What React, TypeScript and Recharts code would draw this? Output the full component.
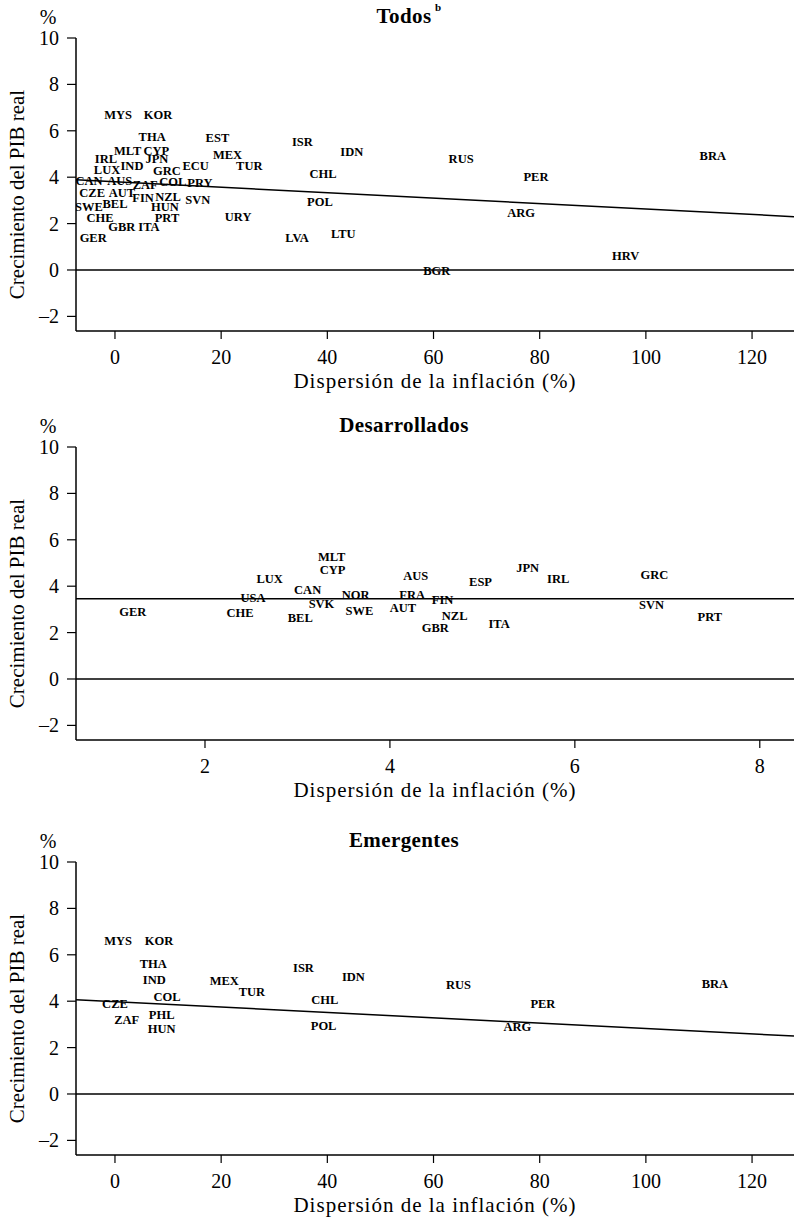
import { ScatterChart, Scatter, XAxis, YAxis, ReferenceLine } from 'recharts'

type CountryPoint = { code: string; x: number; y: number }

// x = dispersión de la inflación (%), y = crecimiento del PIB real (%)
const todosPoints: CountryPoint[] = [
  { code: 'MYS', x: 0.6, y: 6.7 },
  { code: 'KOR', x: 8.1, y: 6.7 },
  { code: 'THA', x: 7.0, y: 5.75 },
  { code: 'EST', x: 19.3, y: 5.7 },
  { code: 'ISR', x: 35.3, y: 5.5 },
  { code: 'IDN', x: 44.6, y: 5.1 },
  { code: 'MLT', x: 2.4, y: 5.15 },
  { code: 'CYP', x: 7.8, y: 5.15 },
  { code: 'IRL', x: -1.7, y: 4.8 },
  { code: 'JPN', x: 7.9, y: 4.8 },
  { code: 'IND', x: 3.2, y: 4.5 },
  { code: 'ECU', x: 15.2, y: 4.5 },
  { code: 'MEX', x: 21.2, y: 4.95 },
  { code: 'TUR', x: 25.3, y: 4.5 },
  { code: 'RUS', x: 65.2, y: 4.8 },
  { code: 'BRA', x: 112.6, y: 4.9 },
  { code: 'LUX', x: -1.5, y: 4.3 },
  { code: 'GRC', x: 9.8, y: 4.25 },
  { code: 'CHL', x: 39.2, y: 4.15 },
  { code: 'PER', x: 79.3, y: 4.0 },
  { code: 'CAN', x: -4.9, y: 3.85 },
  { code: 'AUS', x: 0.9, y: 3.85 },
  { code: 'ZAF', x: 5.7, y: 3.65 },
  { code: 'COL', x: 10.9, y: 3.8 },
  { code: 'PRY', x: 16.0, y: 3.75 },
  { code: 'CZE', x: -4.3, y: 3.3 },
  { code: 'AUT', x: 1.3, y: 3.3 },
  { code: 'FIN', x: 5.3, y: 3.1 },
  { code: 'NZL', x: 10.0, y: 3.15 },
  { code: 'SVN', x: 15.6, y: 3.0 },
  { code: 'POL', x: 38.6, y: 2.95 },
  { code: 'SWE', x: -4.9, y: 2.7 },
  { code: 'BEL', x: 0.0, y: 2.85 },
  { code: 'HUN', x: 9.4, y: 2.7 },
  { code: 'CHE', x: -2.8, y: 2.25 },
  { code: 'PRT', x: 9.8, y: 2.25 },
  { code: 'URY', x: 23.2, y: 2.3 },
  { code: 'ARG', x: 76.5, y: 2.45 },
  { code: 'GBR', x: 1.3, y: 1.85 },
  { code: 'ITA', x: 6.4, y: 1.85 },
  { code: 'GER', x: -4.1, y: 1.4 },
  { code: 'LVA', x: 34.3, y: 1.4 },
  { code: 'LTU', x: 43.0, y: 1.55 },
  { code: 'HRV', x: 96.2, y: 0.6 },
  { code: 'BGR', x: 60.6, y: -0.05 }
]

const desarrolladosPoints: CountryPoint[] = [
  { code: 'GER', x: 1.22, y: 2.9 },
  { code: 'LUX', x: 2.7, y: 4.33 },
  { code: 'USA', x: 2.52, y: 3.5 },
  { code: 'CHE', x: 2.38, y: 2.86 },
  { code: 'MLT', x: 3.37, y: 5.24 },
  { code: 'CYP', x: 3.38, y: 4.68 },
  { code: 'CAN', x: 3.11, y: 3.85 },
  { code: 'SVK', x: 3.26, y: 3.25 },
  { code: 'BEL', x: 3.03, y: 2.64 },
  { code: 'NOR', x: 3.63, y: 3.6 },
  { code: 'SWE', x: 3.67, y: 2.94 },
  { code: 'AUS', x: 4.28, y: 4.42 },
  { code: 'FRA', x: 4.24, y: 3.63 },
  { code: 'AUT', x: 4.14, y: 3.07 },
  { code: 'FIN', x: 4.57, y: 3.42 },
  { code: 'NZL', x: 4.7, y: 2.73 },
  { code: 'GBR', x: 4.49, y: 2.2 },
  { code: 'ITA', x: 5.18, y: 2.38 },
  { code: 'ESP', x: 4.98, y: 4.16 },
  { code: 'JPN', x: 5.49, y: 4.8 },
  { code: 'IRL', x: 5.82, y: 4.33 },
  { code: 'GRC', x: 6.86, y: 4.5 },
  { code: 'SVN', x: 6.83, y: 3.2 },
  { code: 'PRT', x: 7.46, y: 2.68 }
]

const emergentesPoints: CountryPoint[] = [
  { code: 'MYS', x: 0.6, y: 6.6 },
  { code: 'KOR', x: 8.3, y: 6.6 },
  { code: 'THA', x: 7.2, y: 5.6 },
  { code: 'IND', x: 7.4, y: 4.9 },
  { code: 'COL', x: 9.8, y: 4.2 },
  { code: 'CZE', x: 0.0, y: 3.9 },
  { code: 'ZAF', x: 2.2, y: 3.2 },
  { code: 'PHL', x: 8.8, y: 3.4 },
  { code: 'HUN', x: 8.8, y: 2.8 },
  { code: 'MEX', x: 20.6, y: 4.85 },
  { code: 'TUR', x: 25.8, y: 4.4 },
  { code: 'ISR', x: 35.5, y: 5.45 },
  { code: 'IDN', x: 44.9, y: 5.05 },
  { code: 'CHL', x: 39.5, y: 4.05 },
  { code: 'POL', x: 39.3, y: 2.95 },
  { code: 'RUS', x: 64.7, y: 4.7 },
  { code: 'PER', x: 80.6, y: 3.9 },
  { code: 'ARG', x: 75.8, y: 2.9 },
  { code: 'BRA', x: 113.0, y: 4.75 }
]

// fitted lines, read at the edges of each panel
const todosTrend = [{ x: -7.34, y: 3.89 }, { x: 127.9, y: 2.3 }]
const desarrolladosTrend = [{ x: 0.605, y: 3.46 }, { x: 8.37, y: 3.46 }]
const emergentesTrend = [{ x: -7.34, y: 4.06 }, { x: 127.9, y: 2.5 }]

const wideXDomain = [-7.34, 127.9]
const narrowXDomain = [0.605, 8.37]
const wideXTicks = [0, 20, 40, 60, 80, 100, 120]
const narrowXTicks = [2, 4, 6, 8]
const growthTicks = [-2, 0, 2, 4, 6, 8, 10]
const growthDomain = [-2.63, 10]

const SERIF = 'Liberation Serif, DejaVu Serif, serif'

function CodeLabel(props: any) {
  const { cx, cy, payload } = props
  return (
    <text
      x={cx}
      y={cy}
      textAnchor="middle"
      dominantBaseline="central"
      style={{ fontFamily: SERIF, fontSize: 12.5, fontWeight: 'bold' }}
      fill="#000"
    >
      {payload.code}
    </text>
  )
}

interface PanelProps {
  top: number
  height: number
  title: string
  sup?: string
  points: CountryPoint[]
  trend: { x: number; y: number }[]
  xDomain: number[]
  xTicks: number[]
}

function Panel({ top, height, title, sup, points, trend, xDomain, xTicks }: PanelProps) {
  // y-axis label, "%" unit and panel title all drawn off the y-axis box
  const yLabel = (p: any) => {
    const vb = p.viewBox
    const cx = 17
    const cy = vb.y + vb.height / 2 + 10
    return (
      <g>
        <text
          x={cx}
          y={cy}
          transform={`rotate(-90, ${cx}, ${cy})`}
          textAnchor="middle"
          dominantBaseline="central"
          style={{ fontFamily: SERIF, fontSize: 21 }}
          fill="#000"
        >
          Crecimiento del PIB real
        </text>
        <text x={48} y={vb.y - 21} textAnchor="middle" dominantBaseline="central" style={{ fontFamily: SERIF, fontSize: 20 }} fill="#000">
          %
        </text>
        <text x={404} y={vb.y - 22} textAnchor="middle" dominantBaseline="central" style={{ fontFamily: SERIF, fontSize: 21, fontWeight: 'bold', letterSpacing: 0.4 }} fill="#000">
          {title}
        </text>
        {sup && (
          <text x={435} y={vb.y - 31} dominantBaseline="central" style={{ fontFamily: SERIF, fontSize: 11, fontWeight: 'bold' }} fill="#000">
            {sup}
          </text>
        )}
      </g>
    )
  }

  const xLabel = (p: any) => {
    const vb = p.viewBox
    return (
      <text
        x={vb.x + vb.width / 2}
        y={vb.y + 57}
        textAnchor="middle"
        style={{ fontFamily: SERIF, fontSize: 21, letterSpacing: 1 }}
        fill="#000"
      >
        Dispersión de la inflación (%)
      </text>
    )
  }

  const tickStyle = { fill: '#000', fontSize: 20, fontFamily: SERIF, style: { fontFamily: SERIF } }

  return (
    <div style={{ position: 'absolute', left: 0, top, width: 794, height, fontFamily: SERIF }}>
      <ScatterChart width={794} height={height} margin={{ top: 38, right: 0, bottom: 0, left: 0 }} style={{ fontFamily: SERIF }}>
        <XAxis
          type="number"
          dataKey="x"
          domain={xDomain}
          ticks={xTicks}
          allowDataOverflow
          height={height - 331}
          tickSize={8}
          tickMargin={11}
          axisLine={{ stroke: '#000', strokeWidth: 1.5 }}
          tickLine={{ stroke: '#000', strokeWidth: 1.2 }}
          tick={tickStyle}
          label={xLabel}
        />
        <YAxis
          type="number"
          dataKey="y"
          domain={growthDomain}
          ticks={growthTicks}
          allowDataOverflow
          width={76}
          tickSize={9}
          tickMargin={8}
          tickFormatter={(v: number) => (v < 0 ? `–${Math.abs(v)}` : `${v}`)}
          axisLine={{ stroke: '#000', strokeWidth: 1.5 }}
          tickLine={{ stroke: '#000', strokeWidth: 1.2 }}
          tick={tickStyle}
          label={yLabel}
        />
        <ReferenceLine y={0} stroke="#000" strokeWidth={1.5} />
        <ReferenceLine segment={trend} stroke="#000" strokeWidth={1.5} ifOverflow="visible" />
        <Scatter data={points} shape={CodeLabel} isAnimationActive={false} />
      </ScatterChart>
    </div>
  )
}

export default function App() {
  return (
    <div style={{ position: 'absolute', left: 0, top: 0, width: 794, height: 1218, overflow: 'hidden', background: '#fff' }}>
      <Panel top={0} height={394} title="Todos" sup="b" points={todosPoints} trend={todosTrend} xDomain={wideXDomain} xTicks={wideXTicks} />
      <Panel top={409} height={394} title="Desarrollados" points={desarrolladosPoints} trend={desarrolladosTrend} xDomain={narrowXDomain} xTicks={narrowXTicks} />
      <Panel top={824} height={394} title="Emergentes" points={emergentesPoints} trend={emergentesTrend} xDomain={wideXDomain} xTicks={wideXTicks} />
    </div>
  )
}
